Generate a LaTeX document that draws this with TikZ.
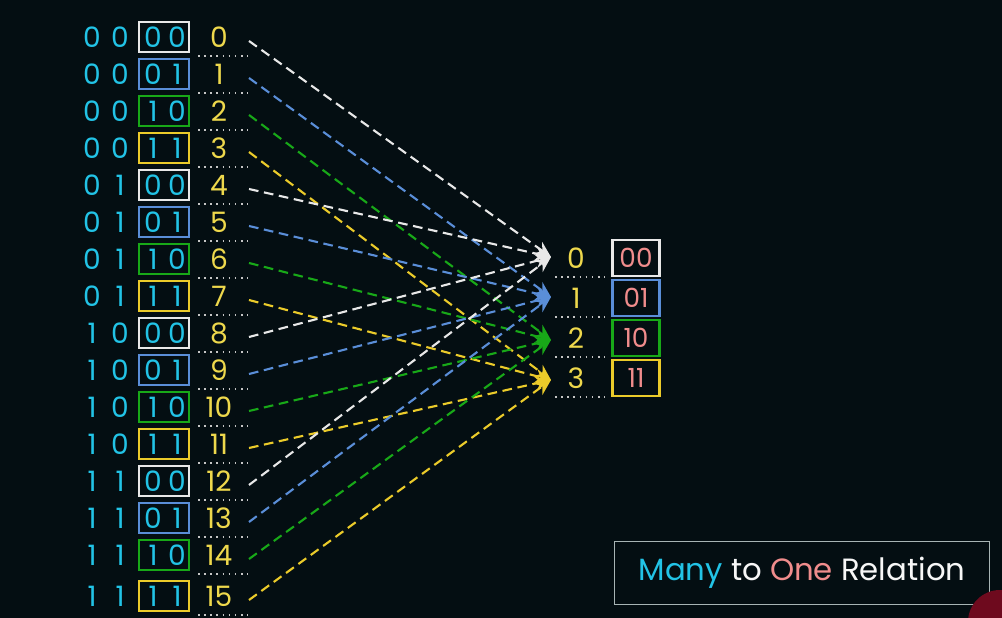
\documentclass[tikz,border=0pt]{standalone}
\usepackage{fontspec}
\setmainfont{Poppins}
\usetikzlibrary{arrows.meta}

\definecolor{bg}{HTML}{040E12}
\definecolor{bitcyan}{HTML}{22C3E6}
\definecolor{numyellow}{HTML}{EED84C}
\definecolor{col0}{HTML}{E8E8E8}
\definecolor{col1}{HTML}{5A8ED8}
\definecolor{col2}{HTML}{18A818}
\definecolor{col3}{HTML}{EBCB2A}
\definecolor{pinky}{HTML}{F08C8C}
\definecolor{frame}{HTML}{A8B4B4}
\definecolor{logored}{HTML}{6E0A1E}

\tikzset{
  bit/.style={text=bitcyan, font=\fontsize{16}{18}\selectfont, inner sep=0pt},
  num/.style={text=numyellow, font=\fontsize{16}{18}\selectfont, inner sep=0pt},
  lowbox/.style={draw, line width=1.2pt, minimum width=1cm, minimum height=0.6cm, inner sep=0pt},
  hibox/.style={draw, line width=1.2pt, minimum width=0.94cm, minimum height=0.72cm, inner sep=0pt,
    text=pinky, font=\fontsize{15}{17}\selectfont},
  dots/.style={draw=white!55!gray, line width=1pt, dash pattern=on 0.9pt off 2.6pt},
  link/.style={line width=1.2pt, dash pattern=on 5.5pt off 3.2pt, -{Stealth[length=9pt,width=8pt]}}
}

\begin{document}
\begin{tikzpicture}[x=0.02cm, y=-0.02cm]

\clip (0,0) rectangle (1002,618);
\fill[bg] (0,0) rectangle (1002,618);

% targets on the right
\coordinate (t0) at (551,257);
\coordinate (t1) at (551,297);
\coordinate (t2) at (551,340);
\coordinate (t3) at (551,380);

\foreach \k/\y/\v in {0/258/00, 1/298/01, 2/338/10, 3/378/11} {
  \node[num] (r\k) at (576,\y) {\k};
  \draw[dots] (555,\y+19) -- (605,\y+19);
  \node[hibox, draw=col\k] (h\k) at (636,\y) {\v};
}

% the sixteen rows
\foreach \i/\y in {0/37,1/74,2/111,3/148,4/185,5/222,6/259,7/296,
                   8/333,9/370,10/407,11/444,12/481,13/518,14/555,15/596} {
  \pgfmathtruncatemacro{\k}{mod(\i,4)}
  \pgfmathtruncatemacro{\ba}{int(\i/8)}
  \pgfmathtruncatemacro{\bb}{mod(int(\i/4),2)}
  \pgfmathtruncatemacro{\bc}{mod(int(\i/2),2)}
  \pgfmathtruncatemacro{\bd}{mod(\i,2)}
  \node[bit] (a\i) at (92,\y) {\ba};
  \node[bit] (b\i) at (120,\y) {\bb};
  \node[lowbox, draw=col\k] (box\i) at (164,\y) {};
  \node[bit] (c\i) at (153,\y) {\bc};
  \node[bit] (d\i) at (177,\y) {\bd};
  \node[num] (n\i) at (219,\y) {\i};
  \draw[dots] (198,\y+19) -- (248,\y+19);
  \coordinate (s\i) at (249,\y+4);
  \draw[link, col\k] (s\i) -- (t\k);
}

\node[draw=frame, line width=1pt, minimum width=7.5cm, minimum height=1.26cm, text=white!94!gray,
  font=\fontsize{17.5}{21}\selectfont] (title) at (802,573)
  {\textcolor{bitcyan}{Many} to \textcolor{pinky}{One} Relation};

\fill[logored] (1000,622) circle (32);
\end{tikzpicture}
\end{document}
